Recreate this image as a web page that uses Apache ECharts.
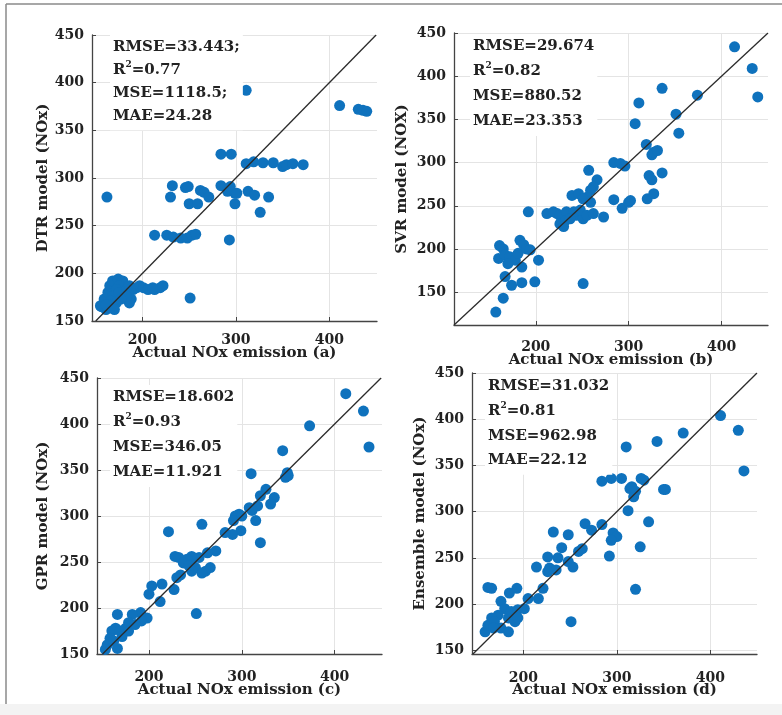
<!DOCTYPE html>
<html>
<head>
<meta charset="utf-8">
<script src="https://cdn.jsdelivr.net/npm/echarts@6/dist/echarts.min.js"></script>
<style>
  html, body { margin: 0; padding: 0; background: #fff; }
  #chart { width: 782px; height: 715px; }
</style>
</head>
<body>
<div id="chart"></div>
<script>
// points: [actual NOx, model NOx]
const dtrData = [
  [162, 280], [311, 392], [411, 376], [431, 372], [436, 371], [440, 370],
  [284, 325], [295, 325],
  [311, 315], [319, 317], [329, 316], [340, 316], [350, 312], [354, 314], [361, 315], [372, 314],
  [232, 292], [230, 280], [246, 290], [262, 287], [266, 285], [271, 280], [250, 273], [259, 273],
  [284, 292], [291, 286], [299, 284], [299, 273], [313, 286], [320, 282], [335, 280], [326, 264],
  [294, 291], [301, 284], [249, 291],
  [213, 240], [226, 240], [233, 238], [241, 237], [248, 237], [253, 240], [257, 241], [293, 235],
  [155, 166], [161, 162], [166, 164], [159, 173], [163, 180], [165, 187], [168, 192], [174, 194],
  [179, 192], [175, 187], [172, 183], [168, 176], [175, 180], [183, 183], [186, 187], [190, 183],
  [194, 185], [197, 187], [201, 185], [206, 183], [213, 183], [219, 185], [188, 173], [186, 169],
  [183, 176], [251, 174], [166, 171], [172, 169], [177, 173], [163, 167], [170, 162], [156, 165],
  [161, 167], [211, 185], [222, 187]
]
const svrData = [
  [414, 434], [433, 409], [439, 376], [336, 386], [374, 378], [311, 369], [307, 345], [351, 356],
  [354, 334], [319, 321], [325, 309], [327, 312], [331, 314], [336, 288], [322, 285], [325, 280],
  [320, 258], [327, 264], [284, 300], [291, 299], [296, 296], [284, 257], [293, 247], [300, 254],
  [302, 256], [257, 291], [266, 280], [262, 272], [259, 268], [255, 260], [239, 262], [246, 264],
  [251, 258], [259, 254],
  [223, 241], [230, 237], [237, 241], [244, 239], [251, 235], [273, 237], [212, 241], [219, 243],
  [226, 239], [233, 243], [241, 243], [248, 245], [255, 239], [262, 241], [226, 229], [232, 233],
  [237, 235], [230, 226], [192, 243],
  [161, 204], [165, 200], [160, 189], [167, 193], [172, 191], [178, 187], [181, 195], [170, 183],
  [185, 179], [183, 210], [187, 205], [190, 200], [194, 199], [203, 187],
  [167, 168], [174, 158], [185, 161], [199, 162], [165, 143], [157, 127], [251, 160]
]
const gprData = [
  [412, 433], [431, 414], [437, 375], [373, 398], [344, 371], [349, 347], [350, 344], [347, 342],
  [310, 346], [326, 329], [320, 322], [335, 320], [331, 313], [317, 311], [308, 309], [311, 306],
  [297, 302], [293, 300], [300, 300], [291, 295], [315, 295], [299, 284], [290, 280], [282, 282],
  [320, 271], [257, 291], [221, 283],
  [272, 262], [263, 260], [254, 255], [246, 256], [241, 253], [232, 255], [228, 256], [237, 249],
  [246, 247], [250, 244], [266, 244], [261, 240], [257, 238], [234, 236], [230, 233], [227, 220],
  [246, 240], [243, 246],
  [203, 224], [214, 226], [200, 215], [212, 207], [198, 189], [191, 195], [182, 193], [178, 184],
  [192, 186], [175, 178], [166, 193], [164, 178], [160, 175], [158, 167], [155, 160], [169, 175],
  [171, 169], [162, 164], [178, 175], [185, 182], [153, 155], [166, 156], [251, 194]
]
const ensData = [
  [411, 404], [430, 388], [436, 344], [371, 385], [343, 376], [310, 370], [350, 324], [352, 324],
  [334, 289], [325, 262], [320, 216], [292, 252], [312, 301], [318, 316], [314, 325], [320, 322],
  [316, 327], [326, 336], [329, 334], [284, 333], [294, 336], [305, 336],
  [296, 277], [300, 273], [294, 269], [284, 286], [266, 287], [273, 280], [248, 275], [232, 278],
  [241, 261], [226, 251], [237, 250], [248, 246], [253, 240], [259, 257], [263, 260], [214, 240],
  [228, 239], [235, 237], [226, 235], [251, 181],
  [162, 218], [166, 217], [159, 170], [176, 203], [185, 212], [193, 217], [180, 195], [173, 188],
  [166, 185], [162, 177], [169, 181], [184, 185], [187, 192], [194, 194], [201, 195], [191, 181],
  [176, 174], [184, 170], [194, 185], [205, 206], [221, 217], [216, 206], [168, 174]
]

const xTicks = [200, 300, 400]
const yTicks = [150, 200, 250, 300, 350, 400, 450]

const yNames = ['DTR model (NOx)', 'SVR model (NOX)', 'GPR model (NOx)', 'Ensemble model (NOx)']
const xNames = ['Actual NOx emission (a)', 'Actual NOx emission (b)', 'Actual NOx emission (c)', 'Actual NOx emission (d)']
const statLines = [
  ['RMSE=33.443;', '0.77', 'MSE=1118.5;', 'MAE=24.28'],
  ['RMSE=29.674', '0.82', 'MSE=880.52', 'MAE=23.353'],
  ['RMSE=18.602', '0.93', 'MSE=346.05', 'MAE=11.921'],
  ['RMSE=31.032', '0.81', 'MSE=962.98', 'MAE=22.12']
]
const xRanges = [[146, 451], [112, 450], [144, 451], [145, 450]]
const yRanges = [[150, 450], [112, 450], [150, 450], [146, 450]]
const fitLine = [[150, 450], [112, 450], [150, 450], [146, 450]]
const allData = [dtrData, svrData, gprData, ensData]

// layout
const grids = [
  { left: 92, top: 35, width: 285, height: 286 },
  { left: 454, top: 33, width: 314, height: 292 },
  { left: 97, top: 378, width: 285, height: 276 },
  { left: 472, top: 373, width: 285, height: 281 }
]
const yNameGap = [41, 44, 46, 44]
const xLabelOffset = [19, 22, 23, 24]
const xTitleY = [353, 360, 690, 690]
const statPos = [[110, 35, 23.3], [470, 34, 25], [110, 385, 25], [485, 374, 24.7]]

const FONT = 'DejaVu Serif'
const ink = '#222'

const chart = echarts.init(document.getElementById('chart'))

const xAxis = [], yAxis = [], series = [], graphic = []
grids.forEach((g, i) => {
  xAxis.push({
    type: 'value', gridIndex: i, min: xRanges[i][0], max: xRanges[i][1],
    axisLine: { show: true, onZero: false, lineStyle: { color: '#444', width: 1.3 } },
    axisTick: { show: true, inside: true, length: 4, customValues: xTicks, lineStyle: { color: '#444' } },
    axisLabel: { show: false, customValues: xTicks },
    splitLine: { show: true, lineStyle: { color: '#e4e4e4', width: 1 } }
  })
  yAxis.push({
    type: 'value', gridIndex: i, min: yRanges[i][0], max: yRanges[i][1],
    name: yNames[i], nameLocation: 'middle', nameGap: yNameGap[i], nameMoveOverlap: false,
    nameTextStyle: { fontFamily: FONT, fontWeight: 'bold', fontSize: 15, color: ink },
    axisLine: { show: true, onZero: false, lineStyle: { color: '#444', width: 1.3 } },
    axisTick: { show: true, inside: true, length: 4, customValues: yTicks, lineStyle: { color: '#444' } },
    axisLabel: { customValues: yTicks, margin: 8, fontFamily: FONT, fontWeight: 'bold', fontSize: 14, color: ink },
    splitLine: { show: true, lineStyle: { color: '#e4e4e4', width: 1 } }
  })
  series.push({
    type: 'scatter', xAxisIndex: i, yAxisIndex: i, data: allData[i],
    symbolSize: 11, itemStyle: { color: '#0f72bd', opacity: 1 }, silent: true
  })
  series.push({
    type: 'line', xAxisIndex: i, yAxisIndex: i,
    data: [[fitLine[i][0], fitLine[i][0]], [fitLine[i][1], fitLine[i][1]]],
    symbol: 'none', lineStyle: { color: '#2b2b2b', width: 1.3 }, silent: true, z: 5
  })
  // x-axis title drawn as text under each panel
  graphic.push({
    type: 'text', x: g.left + g.width / 2, y: xTitleY[i], z: 10,
    style: {
      text: xNames[i], align: 'center', verticalAlign: 'middle',
      textAlign: 'center', textVerticalAlign: 'middle',
      fontFamily: FONT, fontWeight: 'bold', fontSize: 15, fill: ink
    }
  })
  const s = statLines[i]
  graphic.push({
    type: 'text', x: statPos[i][0], y: statPos[i][1], z: 20,
    style: {
      text: '{t|' + s[0] + '}\n{t|R}{s|2}{t|=' + s[1] + '}\n{t|' + s[2] + '}\n{t|' + s[3] + '}',
      backgroundColor: '#fff', padding: [0, 3, 2, 3],
      rich: {
        t: { fontFamily: FONT, fontWeight: 'bold', fontSize: 15, lineHeight: statPos[i][2], fill: ink, color: ink },
        s: { fontFamily: FONT, fontWeight: 'bold', fontSize: 9, lineHeight: 12, verticalAlign: 'top', fill: ink, color: ink, padding: [2, 0, 0, 0] }
      }
    }
  })
})

// frame of the figure
graphic.push(
  { type: 'rect', shape: { x: 7, y: 696, width: 775, height: 8 }, style: { fill: '#fff' }, z: 50 },
  { type: 'rect', shape: { x: 0, y: 704, width: 782, height: 11 }, style: { fill: '#f3f3f3' }, z: 50 },
  { type: 'line', shape: { x1: 6, y1: 4, x2: 782, y2: 4 }, style: { stroke: '#8a8a8a', lineWidth: 1.5 }, z: 50 },
  { type: 'line', shape: { x1: 6, y1: 4, x2: 6, y2: 704 }, style: { stroke: '#8a8a8a', lineWidth: 1.5 }, z: 50 }
)

chart.setOption({
  backgroundColor: '#fff',
  animation: false,
  grid: grids,
  xAxis: xAxis,
  yAxis: yAxis,
  series: series,
  graphic: graphic
})

// x tick labels, placed through each x axis scale
const tickLabels = []
grids.forEach((g, i) => {
  xTicks.forEach(v => {
    const px = chart.convertToPixel({ xAxisIndex: i }, v)
    tickLabels.push({
      type: 'text', x: px, y: g.top + g.height + xLabelOffset[i], z: 9,
      style: {
        text: String(v), align: 'center', verticalAlign: 'middle',
        textAlign: 'center', textVerticalAlign: 'middle',
        fontFamily: FONT, fontWeight: 'bold', fontSize: 14, fill: ink
      }
    })
  })
})
chart.setOption({ graphic: graphic.concat(tickLabels) })
</script>
</body>
</html>
